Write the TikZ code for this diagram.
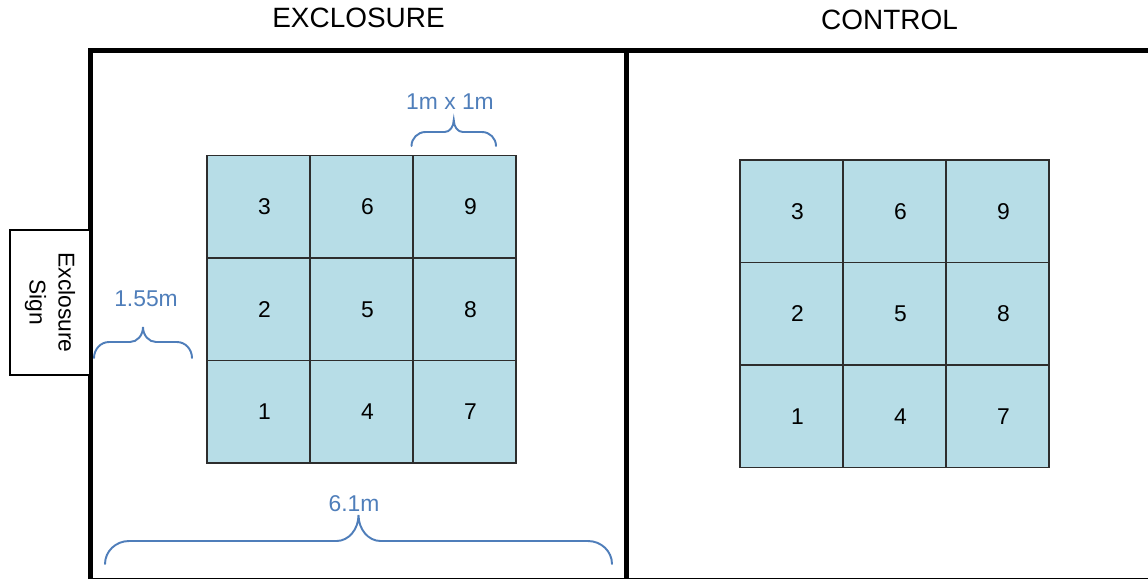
\documentclass[tikz,border=0pt]{standalone}
\usepackage{fontspec}
\setmainfont{Liberation Sans}
\definecolor{cellblue}{RGB}{183,221,231}
\definecolor{bracecol}{RGB}{79,126,186}
\definecolor{gridline}{RGB}{45,45,45}
% #1 L, #2 R, #3 end y, #4 horizontal y, #5 peak y, #6 end radius x, #7 mid radius x
\newcommand{\mybrace}[7]{%
  \draw[bracestyle] (#1,#3)
    .. controls (#1,{#3-0.552*(#3-#4)}) and ({#1+#6-0.552*#6},#4) .. ({#1+#6},#4)
    -- ({(#1+#2)/2-#7},#4)
    .. controls ({(#1+#2)/2-#7+0.552*#7},#4) and ({(#1+#2)/2},{#5+0.552*(#4-#5)}) .. ({(#1+#2)/2},#5)
    .. controls ({(#1+#2)/2},{#5+0.552*(#4-#5)}) and ({(#1+#2)/2+#7-0.552*#7},#4) .. ({(#1+#2)/2+#7},#4)
    -- ({#2-#6},#4)
    .. controls ({#2-#6+0.552*#6},#4) and (#2,{#3-0.552*(#3-#4)}) .. (#2,#3);}
\begin{document}
\begin{tikzpicture}[x=0.02cm,y=-0.02cm,
  wall/.style={line width=0.1cm,line join=miter},
  cell/.style={draw=gridline,line width=0.6pt,fill=cellblue,minimum width=2.06cm,minimum height=2.05cm,inner sep=0pt,outer sep=0pt},
  num/.style={font=\fontsize{13}{15}\selectfont,inner sep=0pt},
  title/.style={font=\fontsize{15.9}{19}\selectfont,inner sep=0pt},
  dimlabel/.style={font=\fontsize{13}{15}\selectfont,text=bracecol,inner sep=0pt},
  bracestyle/.style={draw=bracecol,line width=1.1pt,line cap=round},
  signbox/.style={draw,line width=0.8pt,fill=white,rotate=-90,minimum width=2.9cm,minimum height=1.6cm,align=center,font=\fontsize{13}{16.5}\selectfont,inner sep=0pt}]
\useasboundingbox (0,0) rectangle (1148,579);
% walls
\coordinate (wl) at (90.5,579);
\coordinate (wc) at (90.5,50.5);
\coordinate (wr) at (1148,50.5);
\coordinate (dt) at (626,50.5);
\coordinate (db) at (626,579);
\draw[wall] (wl) -- (wc) -- (wr);
\draw[wall] (dt) -- (db);
\draw[line width=0.6pt] (88,578.7) -- (1148,578.7);
% titles
\node[title] (t1) at (358.5,18) {EXCLOSURE};
\node[title] (t2) at (889.5,20) {CONTROL};
% grids
\foreach \i in {0,1,2}{
  \foreach \j in {0,1,2}{
    \pgfmathtruncatemacro{\n}{3*\i+3-\j}
    \node[cell] (E\n) at ({207+103*\i+51.5},{155.5+102.5*\j+51.25}) {};
    \node[num] (E\n t) at ([xshift=0.12cm]E\n.center) {\n};
    \node[cell] (C\n) at ({740+103*\i+51.5},{160+102.5*\j+51.25}) {};
    \node[num] (C\n t) at ([xshift=0.12cm]C\n.center) {\n};
  }
}
% sign
\node[signbox] (sign) at (50,302.5) {Exclosure\\Sign};
% braces
\mybrace{411.5}{496}{146}{132}{120}{14}{9}
\node[dimlabel] (l1) at (450,102) {1m x 1m};
\mybrace{94}{192}{358}{342}{327}{15}{13}
\node[dimlabel] (l2) at (146,299) {1.55m};
\mybrace{105}{612}{564}{541}{515}{24}{22}
\node[dimlabel] (l3) at (354,504) {6.1m};
\end{tikzpicture}
\end{document}
